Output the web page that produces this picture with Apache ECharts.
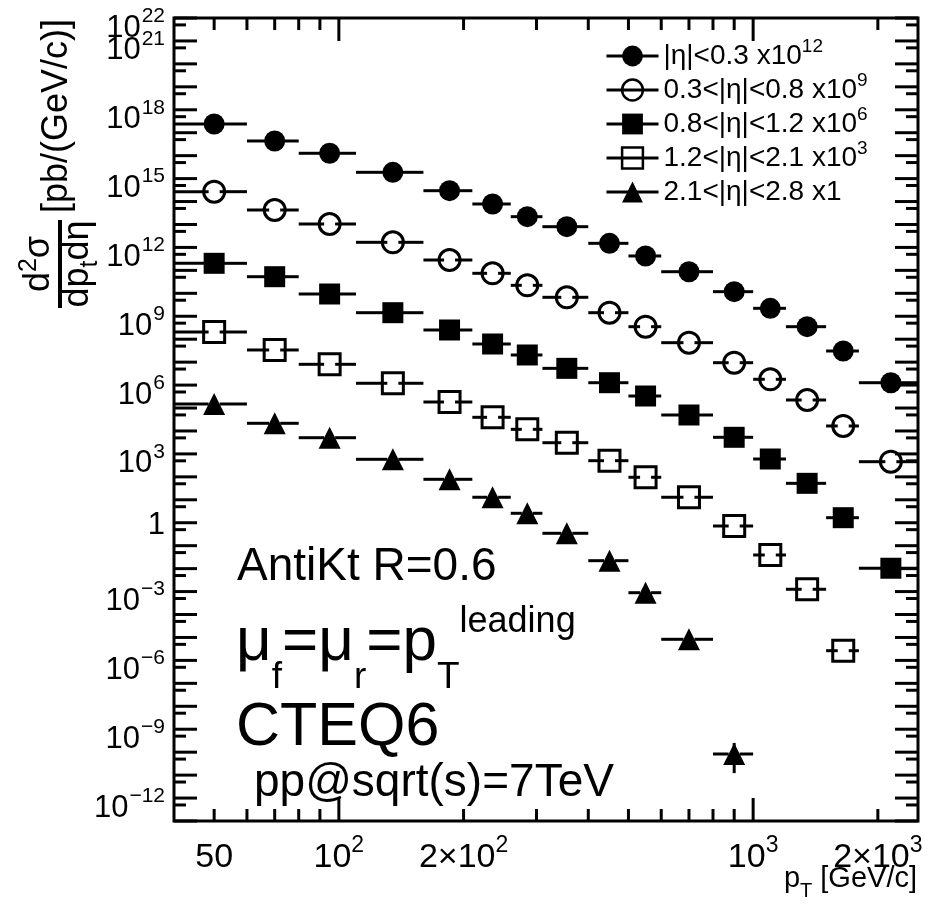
<!DOCTYPE html>
<html>
<head>
<meta charset="utf-8">
<script src="https://cdn.jsdelivr.net/npm/echarts@6/dist/echarts.min.js"></script>
<style>
html, body { margin: 0; padding: 0; background: #fff; }
#chart { width: 937px; height: 909px; }
</style>
</head>
<body>
<div id="chart"></div>
<script>
const FONT = '"Liberation Sans", Arial, Helvetica, sans-serif';

// pT binning [GeV/c]
const binLow    = [40, 60, 80, 110, 160, 210, 260, 310, 400, 500, 600, 800, 1000, 1200, 1500, 1800];
const binHigh   = [60, 80, 110, 160, 210, 260, 310, 400, 500, 600, 800, 1000, 1200, 1500, 1800, 2500];
const binCenter = [50, 70, 95, 135, 185, 235, 285, 355, 450, 550, 700, 900, 1100, 1350, 1650, 2150];

// d2sigma / dpT deta [pb/(GeV/c)] for each |eta| slice, unscaled
const eta00_03 = [2.4e5, 4.36e4, 1.27e4, 1.88e3, 297, 78.2, 21.9, 8.02, 1.51, 0.424, 0.0875, 0.0118, 2.22e-3, 3.51e-4, 3.06e-5, 1.27e-6];
const eta03_08 = [2.69e5, 4.28e4, 1.05e4, 1.67e3, 283, 74.5, 22.3, 6.70, 1.43, 0.351, 0.0705, 9.46e-3, 1.79e-3, 2.24e-4, 1.65e-5, 4.58e-7];
const eta08_12 = [2.03e5, 5.30e4, 9.33e3, 1.43e3, 252, 61.8, 20.5, 5.37, 1.27, 0.334, 0.0497, 5.30e-3, 6.0e-4, 5.22e-5, 1.66e-6, 1.04e-8];
const eta12_21 = [2.06e5, 3.39e4, 8.05e3, 1.20e3, 183, 39.4, 11.8, 3.08, 0.507, 0.0957, 0.0129, 7.21e-4, 3.93e-5, 1.26e-6, 2.65e-9];
const eta21_28 = [1.50e5, 2.16e4, 5.09e3, 582, 78.2, 12.9, 2.58, 0.347, 0.0222, 8.93e-4, 8.32e-6, 8.32e-11];

// vertical uncertainties (absolute, down / up); only the last forward bin is large enough to show
const eta21_28ErrDown = [0, 0, 0, 0, 0, 0, 0, 0, 0, 0, 0, 7.1e-11];
const eta21_28ErrUp   = [0, 0, 0, 0, 0, 0, 0, 0, 0, 0, 0, 1.7e-10];

// slice labels and the power of ten each slice is multiplied by
const sliceNames = ['|η|<0.3', '0.3<|η|<0.8', '0.8<|η|<1.2', '1.2<|η|<2.1', '2.1<|η|<2.8'];
const sliceScaleExp = [12, 9, 6, 3, 0];

// axis tick values and labels
const xMajorTicks = [100, 1000];
const xMinorTicks = [50, 60, 70, 80, 90, 200, 300, 400, 500, 600, 700, 800, 900, 2000];
const xLabelValues = [50, 100, 200, 1000, 2000];
const xLabelBase = ['50', '10', '2×10', '10', '2×10'];
const xLabelSup = ['', '2', '2', '3', '3'];
const yLabelExps = [22, 21, 18, 15, 12, 9, 6, 3, 0, -3, -6, -9, -12];
const yDecadeMin = -13, yDecadeMax = 22;

// ---------- helpers ----------
const measureCtx = document.createElement('canvas').getContext('2d');
function textWidth(s, size) {
  measureCtx.font = size + 'px ' + FONT;
  return measureCtx.measureText(s).width;
}
function txt(t, x, y, size, align) {
  return {
    type: 'text', x: x, y: y,
    style: { text: t, fontSize: size, fontFamily: FONT, fill: '#000', align: align || 'left', verticalAlign: 'middle' }
  };
}
// lays out text pieces left to right on a common baseline; piece = [text, size, dy]
function textRun(x0, baseline, pieces) {
  let x = x0;
  return pieces.map(function (p) {
    const el = txt(p[0], x, baseline + (p[2] || 0) - 0.35 * p[1], p[1]);
    x += textWidth(p[0], p[1]);
    return el;
  });
}
function runWidth(pieces) {
  return pieces.reduce(function (s, p) { return s + textWidth(p[0], p[1]); }, 0);
}

const LW = 3;
const BAR_GAP = 11; // error bars stop this many pixels around the point
const markerSymbols = ['circle', 'circle', 'rect', 'rect', 'triangle'];
const markerSizes = [21, 21, 21, 21, 22];
const markerHollow = [false, true, false, true, false];
const sliceValues = [eta00_03, eta03_08, eta08_12, eta12_21, eta21_28];
const sliceErrDown = [null, null, null, null, eta21_28ErrDown];
const sliceErrUp = [null, null, null, null, eta21_28ErrUp];

const series = [];

// error bars: horizontal = bin width, vertical = uncertainty, with a gap at the point
sliceValues.forEach(function (vals, k) {
  const f = Math.pow(10, sliceScaleExp[k]);
  const data = vals.map(function (v, i) {
    const dn = sliceErrDown[k] ? sliceErrDown[k][i] : 0;
    const up = sliceErrUp[k] ? sliceErrUp[k][i] : 0;
    return [binCenter[i], v * f, binLow[i], binHigh[i], (v - dn) * f, (v + up) * f];
  });
  series.push({
    type: 'custom', name: 'err' + k, coordinateSystem: 'cartesian2d', clip: true, silent: true, z: 3,
    encode: { x: 0, y: 1 },
    data: data,
    renderItem: function (params, api) {
      const st = { stroke: '#000', lineWidth: LW };
      const c = api.coord([api.value(0), api.value(1)]);
      const a = api.coord([api.value(2), api.value(1)]);
      const b = api.coord([api.value(3), api.value(1)]);
      const g = BAR_GAP / 2;
      const children = [];
      if (c[0] - g > a[0]) children.push({ type: 'line', shape: { x1: a[0], y1: c[1], x2: c[0] - g, y2: c[1] }, style: st });
      if (b[0] > c[0] + g) children.push({ type: 'line', shape: { x1: c[0] + g, y1: c[1], x2: b[0], y2: c[1] }, style: st });
      const lo = api.coord([api.value(0), api.value(4)]);
      const hi = api.coord([api.value(0), api.value(5)]);
      if (lo[1] > c[1] + g) children.push({ type: 'line', shape: { x1: c[0], y1: c[1] + g, x2: c[0], y2: lo[1] }, style: st });
      if (hi[1] < c[1] - g) children.push({ type: 'line', shape: { x1: c[0], y1: hi[1], x2: c[0], y2: c[1] - g }, style: st });
      return { type: 'group', children: children };
    }
  });
});

// markers
sliceValues.forEach(function (vals, k) {
  const f = Math.pow(10, sliceScaleExp[k]);
  series.push({
    type: 'line', name: sliceNames[k], z: 5, silent: true,
    data: vals.map(function (v, i) { return [binCenter[i], v * f]; }),
    symbol: markerSymbols[k], symbolSize: markerSizes[k], showSymbol: true, showAllSymbol: true,
    lineStyle: { width: 0, opacity: 0 },
    itemStyle: markerHollow[k]
      ? { color: 'rgba(255,255,255,0)', borderColor: '#000', borderWidth: LW }
      : { color: '#000', borderColor: '#000', borderWidth: 0 },
    emphasis: { disabled: true }
  });
});

// frame ticks on all four sides
const tickData = [];
xMajorTicks.forEach(function (v) { tickData.push([v, 1, 0, 1]); });
xMinorTicks.forEach(function (v) { tickData.push([v, 1, 0, 0]); });
for (let e = yDecadeMin; e <= yDecadeMax; e++) {
  tickData.push([100, Math.pow(10, e), 1, 1]);
  if (e > yDecadeMin) tickData.push([100, 5 * Math.pow(10, e - 1), 1, 0]);
}
series.push({
  type: 'custom', name: 'ticks', coordinateSystem: 'cartesian2d', clip: false, silent: true, z: 4,
  encode: { x: 0, y: 1 },
  data: tickData,
  renderItem: function (params, api) {
    const cs = params.coordSys;
    const len = api.value(3) ? 23 : 12;
    const p = api.coord([api.value(0), api.value(1)]);
    const st = { stroke: '#000', lineWidth: LW };
    if (api.value(2) === 0) {
      const yb = cs.y + cs.height, yt = cs.y;
      return { type: 'group', children: [
        { type: 'line', shape: { x1: p[0], y1: yb, x2: p[0], y2: yb - len }, style: st },
        { type: 'line', shape: { x1: p[0], y1: yt, x2: p[0], y2: yt + len }, style: st }
      ] };
    }
    const xl = cs.x, xr = cs.x + cs.width;
    return { type: 'group', children: [
      { type: 'line', shape: { x1: xl, y1: p[1], x2: xl + len, y2: p[1] }, style: st },
      { type: 'line', shape: { x1: xr, y1: p[1], x2: xr - len, y2: p[1] }, style: st }
    ] };
  }
});

// y tick labels
series.push({
  type: 'custom', name: 'ylabels', coordinateSystem: 'cartesian2d', clip: false, silent: true, z: 4,
  encode: { x: 0, y: 1 },
  data: yLabelExps.map(function (e) { return [100, Math.pow(10, e), e]; }),
  renderItem: function (params, api) {
    const cs = params.coordSys;
    const e = api.value(2);
    const py = api.coord([api.value(0), api.value(1)])[1];
    const R = cs.x - 9;
    if (e === 0) return txt('1', R, py + 3, 31, 'right');
    const sup = String(e).replace('-', '−');
    const sw = textWidth(sup, 21);
    return { type: 'group', children: [
      txt('10', R - sw - 1, py + 10, 31, 'right'),
      txt(sup, R - sw, py - 2, 21, 'left')
    ] };
  }
});

// x tick labels
series.push({
  type: 'custom', name: 'xlabels', coordinateSystem: 'cartesian2d', clip: false, silent: true, z: 4,
  encode: { x: 0, y: 1 },
  data: xLabelValues.map(function (v, i) { return [v, 1, i]; }),
  renderItem: function (params, api) {
    const i = api.value(2);
    const px = api.coord([api.value(0), api.value(1)])[0];
    const base = xLabelBase[i], sup = xLabelSup[i];
    const bw = textWidth(base, 34), sw = sup ? textWidth(sup, 23) : 0;
    const x0 = px - (bw + sw) / 2;
    const children = [txt(base, x0, 858, 34, 'left')];
    if (sup) children.push(txt(sup, x0 + bw, 846, 23, 'left'));
    return { type: 'group', children: children };
  }
});

// axis titles and annotations
const xTitle = [['p', 29, 0], ['T', 20, 9], [' [GeV/c]', 29, 0]];
const graphics = [];
graphics.push({ type: 'group', children: textRun(917 - runWidth(xTitle), 889, xTitle) });

// rotated y title: fraction d2sigma / dpT deta followed by units
const numer = [['d', 36, 0], ['2', 25, -14], ['σ', 36, 0]];
const denom = [['dp', 36, 0], ['t', 25, 8], ['dη', 36, 0]];
const barLen = 88;
graphics.push({
  type: 'group', x: 60, y: 308, rotation: Math.PI / 2,
  children: [].concat(
    [{ type: 'rect', shape: { x: 0, y: -2, width: barLen, height: 4 }, style: { fill: '#000' } }],
    textRun(barLen / 2 - runWidth(numer) / 2, -8, numer),
    textRun(barLen / 2 - runWidth(denom) / 2, 31, denom),
    textRun(barLen + 7, 10, [['[pb/(GeV/c)]', 36, 0]])
  )
});

graphics.push({ type: 'group', children: textRun(237, 583, [['AntiKt R=0.6', 46, 0]]) });
graphics.push({ type: 'group', children: textRun(236, 665, [
  ['μ', 62, 0], ['f', 37, 26], ['=μ', 62, 0], ['r', 37, 26], ['=p', 62, 0], ['T', 37, 26], ['leading', 36, -30]
]) });
graphics.push({ type: 'group', children: textRun(236, 750, [['CTEQ6', 61, 0]]) });
graphics.push({ type: 'group', children: textRun(254, 799, [['pp@sqrt(s)=7TeV', 46, 0]]) });

const legendData = sliceNames.map(function (n, k) {
  return markerHollow[k]
    ? { name: n, itemStyle: { color: 'rgba(255,255,255,0)', borderColor: '#000', borderWidth: 2.5 } }
    : { name: n };
});

const chart = echarts.init(document.getElementById('chart'), null, { renderer: 'canvas' });
chart.setOption({
  animation: false,
  backgroundColor: '#fff',
  grid: { left: 174, right: 19, top: 18, bottom: 88, show: true, borderColor: '#000', borderWidth: LW, backgroundColor: 'transparent' },
  xAxis: {
    type: 'log', logBase: 10, min: 40, max: 2500,
    axisLine: { show: false }, axisTick: { show: false }, axisLabel: { show: false }, splitLine: { show: false }
  },
  yAxis: {
    type: 'log', logBase: 10, min: Math.pow(10, yDecadeMin), max: Math.pow(10, yDecadeMax),
    axisLine: { show: false }, axisTick: { show: false }, axisLabel: { show: false }, splitLine: { show: false }
  },
  legend: {
    data: legendData, orient: 'vertical', left: 605, top: 37, padding: 0,
    itemWidth: 52, itemHeight: 26, itemGap: -4, selectedMode: false,
    lineStyle: { color: '#000', width: LW, opacity: 1, type: 'solid' },
    textStyle: {
      fontSize: 28, fontFamily: FONT, color: '#000', lineHeight: 38,
      rich: { s: { fontSize: 19, fontFamily: FONT, color: '#000', lineHeight: 19, verticalAlign: 'top' } }
    },
    formatter: function (name) {
      const k = sliceNames.indexOf(name);
      return name + ' x' + (sliceScaleExp[k] ? '10{s|' + sliceScaleExp[k] + '}' : '1');
    }
  },
  series: series,
  graphic: graphics
});
</script>
</body>
</html>
